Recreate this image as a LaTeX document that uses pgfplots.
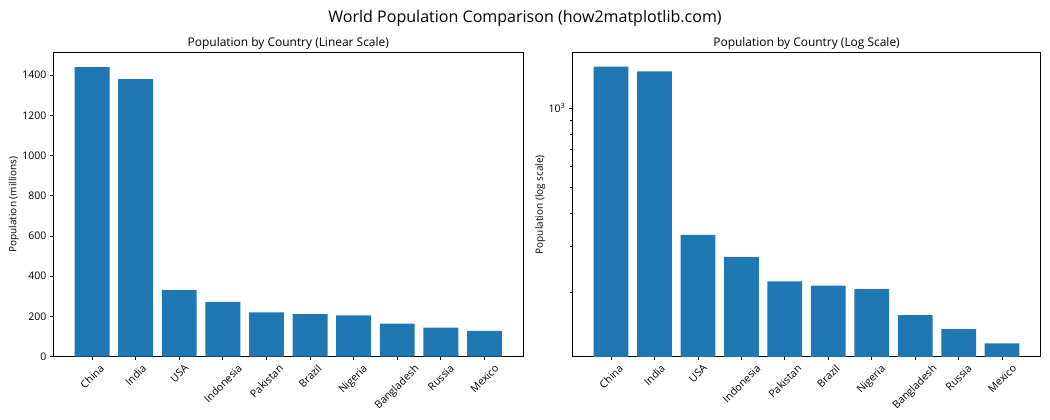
\documentclass[border=0pt]{standalone}
\usepackage{fontspec}
\setmainfont{Open Sans}
\usepackage{graphicx}
\usepackage{pgfplots}
\pgfplotsset{compat=1.18}

\definecolor{barblue}{HTML}{1F77B4}
\newcommand{\rl}[1]{\rotatebox{45}{#1}}

\pgfplotstableread{
idx pop
0 1439
1 1380
2 331
3 273
4 220
5 212
6 206
7 164
8 145
9 128
}\popdata

\pgfplotsset{
  popaxis/.style={
    scale only axis,
    height=312.7bp,
    xmin=-0.89, xmax=9.89,
    xtick={0,...,9},
    xticklabels={\rl{China},\rl{India},\rl{USA},\rl{Indonesia},\rl{Pakistan},\rl{Brazil},\rl{Nigeria},\rl{Bangladesh},\rl{Russia},\rl{Mexico}},
    xticklabel style={anchor=north, inner sep=0pt, yshift=-3.5bp},
    yticklabel style={inner sep=0pt, xshift=-3.5bp},
    tick align=outside,
    xtick pos=lower, ytick pos=left,
    major tick length=3.5bp, minor tick length=2bp,
    tick style={black, line width=0.8bp},
    minor tick style={black, line width=0.6bp},
    axis line style={black, line width=0.8bp},
    tick label style={font=\fontsize{10.8bp}{12bp}\selectfont},
    label style={font=\fontsize{10.3bp}{12bp}\selectfont},
    title style={at={(0.5,1)}, anchor=base, yshift=0bp, font=\fontsize{12.3bp}{14bp}\selectfont},
    /pgf/number format/assume math mode=true,
    /pgf/number format/1000 sep={},
    ybar, bar width=0.8,
  },
}

\begin{document}
\begin{tikzpicture}
\path[use as bounding box] (0,0) rectangle (1080bp,432bp);

\begin{axis}[popaxis,
  width=483.4bp,
  at={(54.8bp,65.1bp)}, anchor=south west,
  ymin=0, ymax=1511,
  ytick={0,200,...,1400},
  ylabel={Population (millions)},
  title={Population by Country (Linear Scale)},
  ]
\addplot[fill=barblue, draw=none] table[x=idx, y=pop] {\popdata};
\end{axis}

\begin{axis}[popaxis,
  width=481.8bp,
  at={(588.7bp,65.1bp)}, anchor=south west,
  ymode=log, ymin=114, ymax=1626,
  ytick={1000}, yticklabels={10\textsuperscript{3}},
  minor ytick={200,300,400,500,600,700,800,900},
  ylabel={Population (log scale)},
  title={Population by Country (Log Scale)},
  ]
\addplot[fill=barblue, draw=none] table[x=idx, y=pop] {\popdata};
\end{axis}

\node[anchor=base, font=\fontsize{16.5bp}{19bp}\selectfont] at (540bp,409bp) {World Population Comparison (how2matplotlib.com)};
\end{tikzpicture}
\end{document}
